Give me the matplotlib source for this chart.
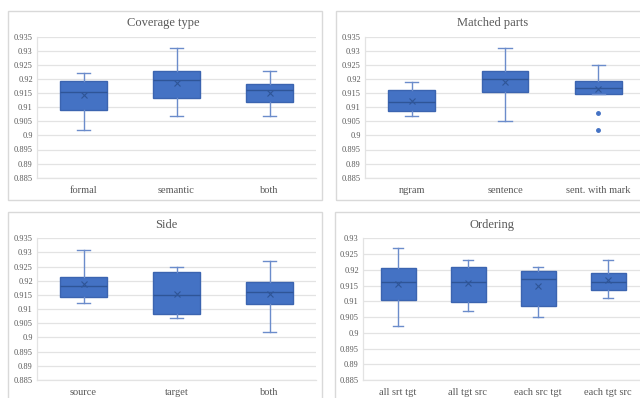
import matplotlib
matplotlib.use("Agg")
import matplotlib.pyplot as plt
from matplotlib.patches import Rectangle

W, H = 640, 398

# ---- data (per panel: categories, whisker low, Q1, median, Q3, whisker high, mean, outliers)
cov_cats = ["formal", "semantic", "both"]
cov_lo = [0.902, 0.907, 0.907]
cov_q1 = [0.909, 0.9134, 0.9118]
cov_med = [0.9155, 0.9196, 0.9161]
cov_q3 = [0.9193, 0.9228, 0.9181]
cov_hi = [0.922, 0.931, 0.923]
cov_mean = [0.9143, 0.9187, 0.9149]
cov_out = [[], [], []]

mat_cats = ["ngram", "sentence", "sent. with mark"]
mat_lo = [0.907, 0.905, 0.9148]
mat_q1 = [0.9085, 0.9154, 0.9148]
mat_med = [0.912, 0.920, 0.9169]
mat_q3 = [0.916, 0.923, 0.9194]
mat_hi = [0.919, 0.931, 0.925]
mat_mean = [0.9122, 0.9191, 0.9166]
mat_out = [[], [], [0.908, 0.902]]

side_cats = ["source", "target", "both"]
side_lo = [0.912, 0.907, 0.902]
side_q1 = [0.9144, 0.9084, 0.9119]
side_med = [0.9181, 0.915, 0.916]
side_q3 = [0.9215, 0.923, 0.9197]
side_hi = [0.931, 0.925, 0.927]
side_mean = [0.919, 0.9152, 0.9155]
side_out = [[], [], []]

ord_cats = ["all srt tgt", "all tgt src", "each src tgt", "each tgt src"]
ord_lo = [0.902, 0.907, 0.905, 0.911]
ord_q1 = [0.9105, 0.9099, 0.9084, 0.9136]
ord_med = [0.916, 0.916, 0.917, 0.916]
ord_q3 = [0.9205, 0.921, 0.9196, 0.9191]
ord_hi = [0.927, 0.923, 0.921, 0.923]
ord_mean = [0.9154, 0.9157, 0.9148, 0.9166]
ord_out = [[], [], [], []]

ticks_a = [0.885, 0.89, 0.895, 0.9, 0.905, 0.91, 0.915, 0.92, 0.925, 0.93, 0.935]
ticks_b = [0.885, 0.89, 0.895, 0.9, 0.905, 0.91, 0.915, 0.92, 0.925, 0.93]
tick_labels_a = ["0.885", "0.89", "0.895", "0.9", "0.905", "0.91", "0.915", "0.92", "0.925", "0.93", "0.935"]
tick_labels_b = tick_labels_a[:-1]

FILL = "#4472C4"
EDGE = "#3B64B0"
WHISK = "#6B8CCB"
GRID = "#E3E3E3"
BORDER = "#D9D9D9"
TEXT = "#595959"
SERIF = ["Liberation Serif", "DejaVu Serif"]

fig = plt.figure(figsize=(W / 100, H / 100), dpi=100)
fig.patch.set_facecolor("white")


def px_rect(x0, y0, x1, y1):
    return [x0 / W, 1 - y1 / H, (x1 - x0) / W, (y1 - y0) / H]


def border(x0, y0, x1, y1):
    fig.patches.append(Rectangle((x0 / W, 1 - y1 / H), (x1 - x0) / W, (y1 - y0) / H,
                                 transform=fig.transFigure, fill=False,
                                 edgecolor=BORDER, linewidth=1.0))


def panel(rect, title, title_xy, cats, lo, q1, med, q3, hi, mean, out, ticks, tlabels):
    ax = fig.add_axes(rect)
    stats = []
    for i in range(len(cats)):
        stats.append(dict(label=cats[i], whislo=lo[i], q1=q1[i], med=med[i], q3=q3[i],
                          whishi=hi[i], mean=mean[i], fliers=out[i]))
    ax.bxp(stats, positions=range(len(cats)), widths=0.5, patch_artist=True,
           showmeans=True, showfliers=True,
           boxprops=dict(facecolor=FILL, edgecolor=EDGE, linewidth=1.0),
           medianprops=dict(color="#2F5597", linewidth=1.0),
           whiskerprops=dict(color=WHISK, linewidth=1.0),
           capprops=dict(color=WHISK, linewidth=1.0),
           capwidths=0.14,
           meanprops=dict(marker="x", markeredgecolor="#2F5597", markersize=4.5, markeredgewidth=0.8),
           flierprops=dict(marker="o", markerfacecolor=FILL, markeredgecolor=FILL, markersize=2.5))
    ax.set_xlim(-0.5, len(cats) - 0.5)
    ax.set_ylim(ticks[0], ticks[-1])
    ax.set_yticks(ticks)
    ax.set_yticklabels(tlabels, fontsize=6, color=TEXT, family=SERIF)
    ax.set_xticks(range(len(cats)))
    ax.set_xticklabels(cats, fontsize=7.5, color=TEXT, family=SERIF)
    ax.tick_params(axis="both", length=0)
    ax.tick_params(axis="y", pad=3)
    ax.tick_params(axis="x", pad=6)
    ax.grid(axis="y", color=GRID, linewidth=0.9)
    ax.set_axisbelow(True)
    for s in ["top", "right"]:
        ax.spines[s].set_visible(False)
    ax.spines["left"].set_color(GRID)
    ax.spines["bottom"].set_color(GRID)
    ax.spines["left"].set_linewidth(0.9)
    ax.spines["bottom"].set_linewidth(0.9)
    fig.text(title_xy[0] / W, 1 - title_xy[1] / H, title, fontsize=9, color=TEXT,
             family=SERIF, ha="center", va="center")
    return ax


# panel borders
border(8, 11, 322, 200)
border(336, 11, 660, 200)
border(8, 212, 322, 420)
border(335, 212, 660, 420)

panel(px_rect(37, 36.7, 316, 177.7), "Coverage type", (163, 23),
      cov_cats, cov_lo, cov_q1, cov_med, cov_q3, cov_hi, cov_mean, cov_out, ticks_a, tick_labels_a)
panel(px_rect(365, 36.7, 645, 177.7), "Matched parts", (493, 23),
      mat_cats, mat_lo, mat_q1, mat_med, mat_q3, mat_hi, mat_mean, mat_out, ticks_a, tick_labels_a)
panel(px_rect(37, 238.3, 316, 380), "Side", (166, 225),
      side_cats, side_lo, side_q1, side_med, side_q3, side_hi, side_mean, side_out, ticks_a, tick_labels_a)
panel(px_rect(363, 238.3, 643, 380), "Ordering", (492, 225),
      ord_cats, ord_lo, ord_q1, ord_med, ord_q3, ord_hi, ord_mean, ord_out, ticks_b, tick_labels_b)

fig.savefig("out.png", dpi=100, facecolor="white")
